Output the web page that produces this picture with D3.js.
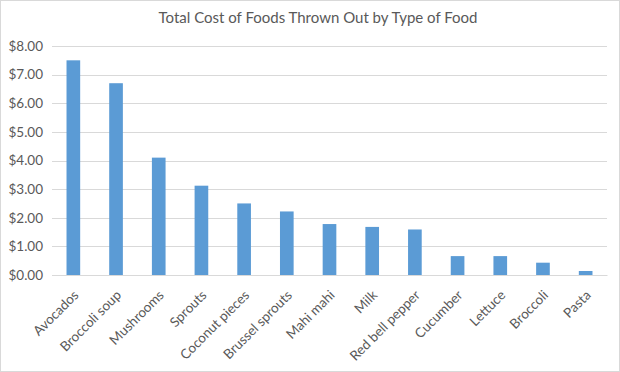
<!DOCTYPE html>
<html>
<head>
<meta charset="utf-8">
<script src="https://cdn.jsdelivr.net/npm/d3@7"></script>
<style>
  body { margin: 0; background: #fff; }
  text { font-family: Lato, "Open Sans", sans-serif; fill: #595959; }
</style>
</head>
<body>
<div id="chart"></div>
<script>
var foods = ["Avocados", "Broccoli soup", "Mushrooms", "Sprouts", "Coconut pieces",
  "Brussel sprouts", "Mahi mahi", "Milk", "Red bell pepper", "Cucumber",
  "Lettuce", "Broccoli", "Pasta"];
var costs = [7.50, 6.70, 4.10, 3.12, 2.50, 2.22, 1.78, 1.68, 1.59, 0.66, 0.66, 0.43, 0.14];
var yTicks = [0, 1, 2, 3, 4, 5, 6, 7, 8];

var W = 620, H = 372;
var margin = {top: 46, right: 13, bottom: 97, left: 52},
  width = W - margin.left - margin.right,
  height = H - margin.top - margin.bottom;

var svg = d3.select("#chart")
  .append("svg")
    .attr("width", W)
    .attr("height", H);

// chart border
svg.append("rect")
  .attr("x", 0.5).attr("y", 0.5)
  .attr("width", W - 1).attr("height", H - 1)
  .attr("fill", "#fff")
  .attr("stroke", "#d9d9d9");

svg.append("text")
  .attr("x", W / 2 + 8)
  .attr("y", 23)
  .attr("text-anchor", "middle")
  .style("font-size", "15px")
  .text("Total Cost of Foods Thrown Out by Type of Food");

var graph = svg.append("g")
  .attr("transform", "translate(" + margin.left + "," + margin.top + ")");

var x = d3.scaleBand()
  .domain(foods)
  .range([0, width])
  .paddingInner(0.68)
  .paddingOuter(0.34);

var y = d3.scaleLinear()
  .domain([0, 8])
  .range([height, 0]);

// gridlines
graph.append("g")
  .selectAll("line")
  .data(yTicks)
  .enter().append("line")
    .attr("x1", 0)
    .attr("x2", width)
    .attr("y1", function(d) { return Math.round(y(d)) + 0.5; })
    .attr("y2", function(d) { return Math.round(y(d)) + 0.5; })
    .attr("stroke", "#d9d9d9")
    .attr("stroke-width", 1);

// Y axis labels
var yAxis = graph.append("g")
  .call(d3.axisLeft(y).tickValues(yTicks).tickSize(0).tickPadding(9)
    .tickFormat(function(d) { return "$" + d3.format(".2f")(d); }));
yAxis.select(".domain").remove();
yAxis.selectAll("text").style("font-size", "13.5px").attr("fill", "#595959");

// bars
graph.selectAll("rect.bar")
  .data(costs)
  .enter().append("rect")
    .attr("class", "bar")
    .attr("x", function(d, i) { return x(foods[i]); })
    .attr("width", x.bandwidth())
    .attr("y", function(d) { return y(d); })
    .attr("height", function(d) { return height - y(d); })
    .attr("fill", "#5b9bd5");

// X axis
var xAxis = graph.append("g")
  .attr("transform", "translate(0," + height + ")")
  .call(d3.axisBottom(x).tickSize(0).tickPadding(0));
xAxis.select(".domain").attr("stroke", "#d9d9d9");
xAxis.selectAll("text")
  .style("font-size", "13.5px")
  .attr("fill", "#595959")
  .attr("text-anchor", "end")
  .attr("y", 0)
  .attr("dy", 0)
  .attr("transform", "translate(6,21) rotate(-45)");
</script>
</body>
</html>
